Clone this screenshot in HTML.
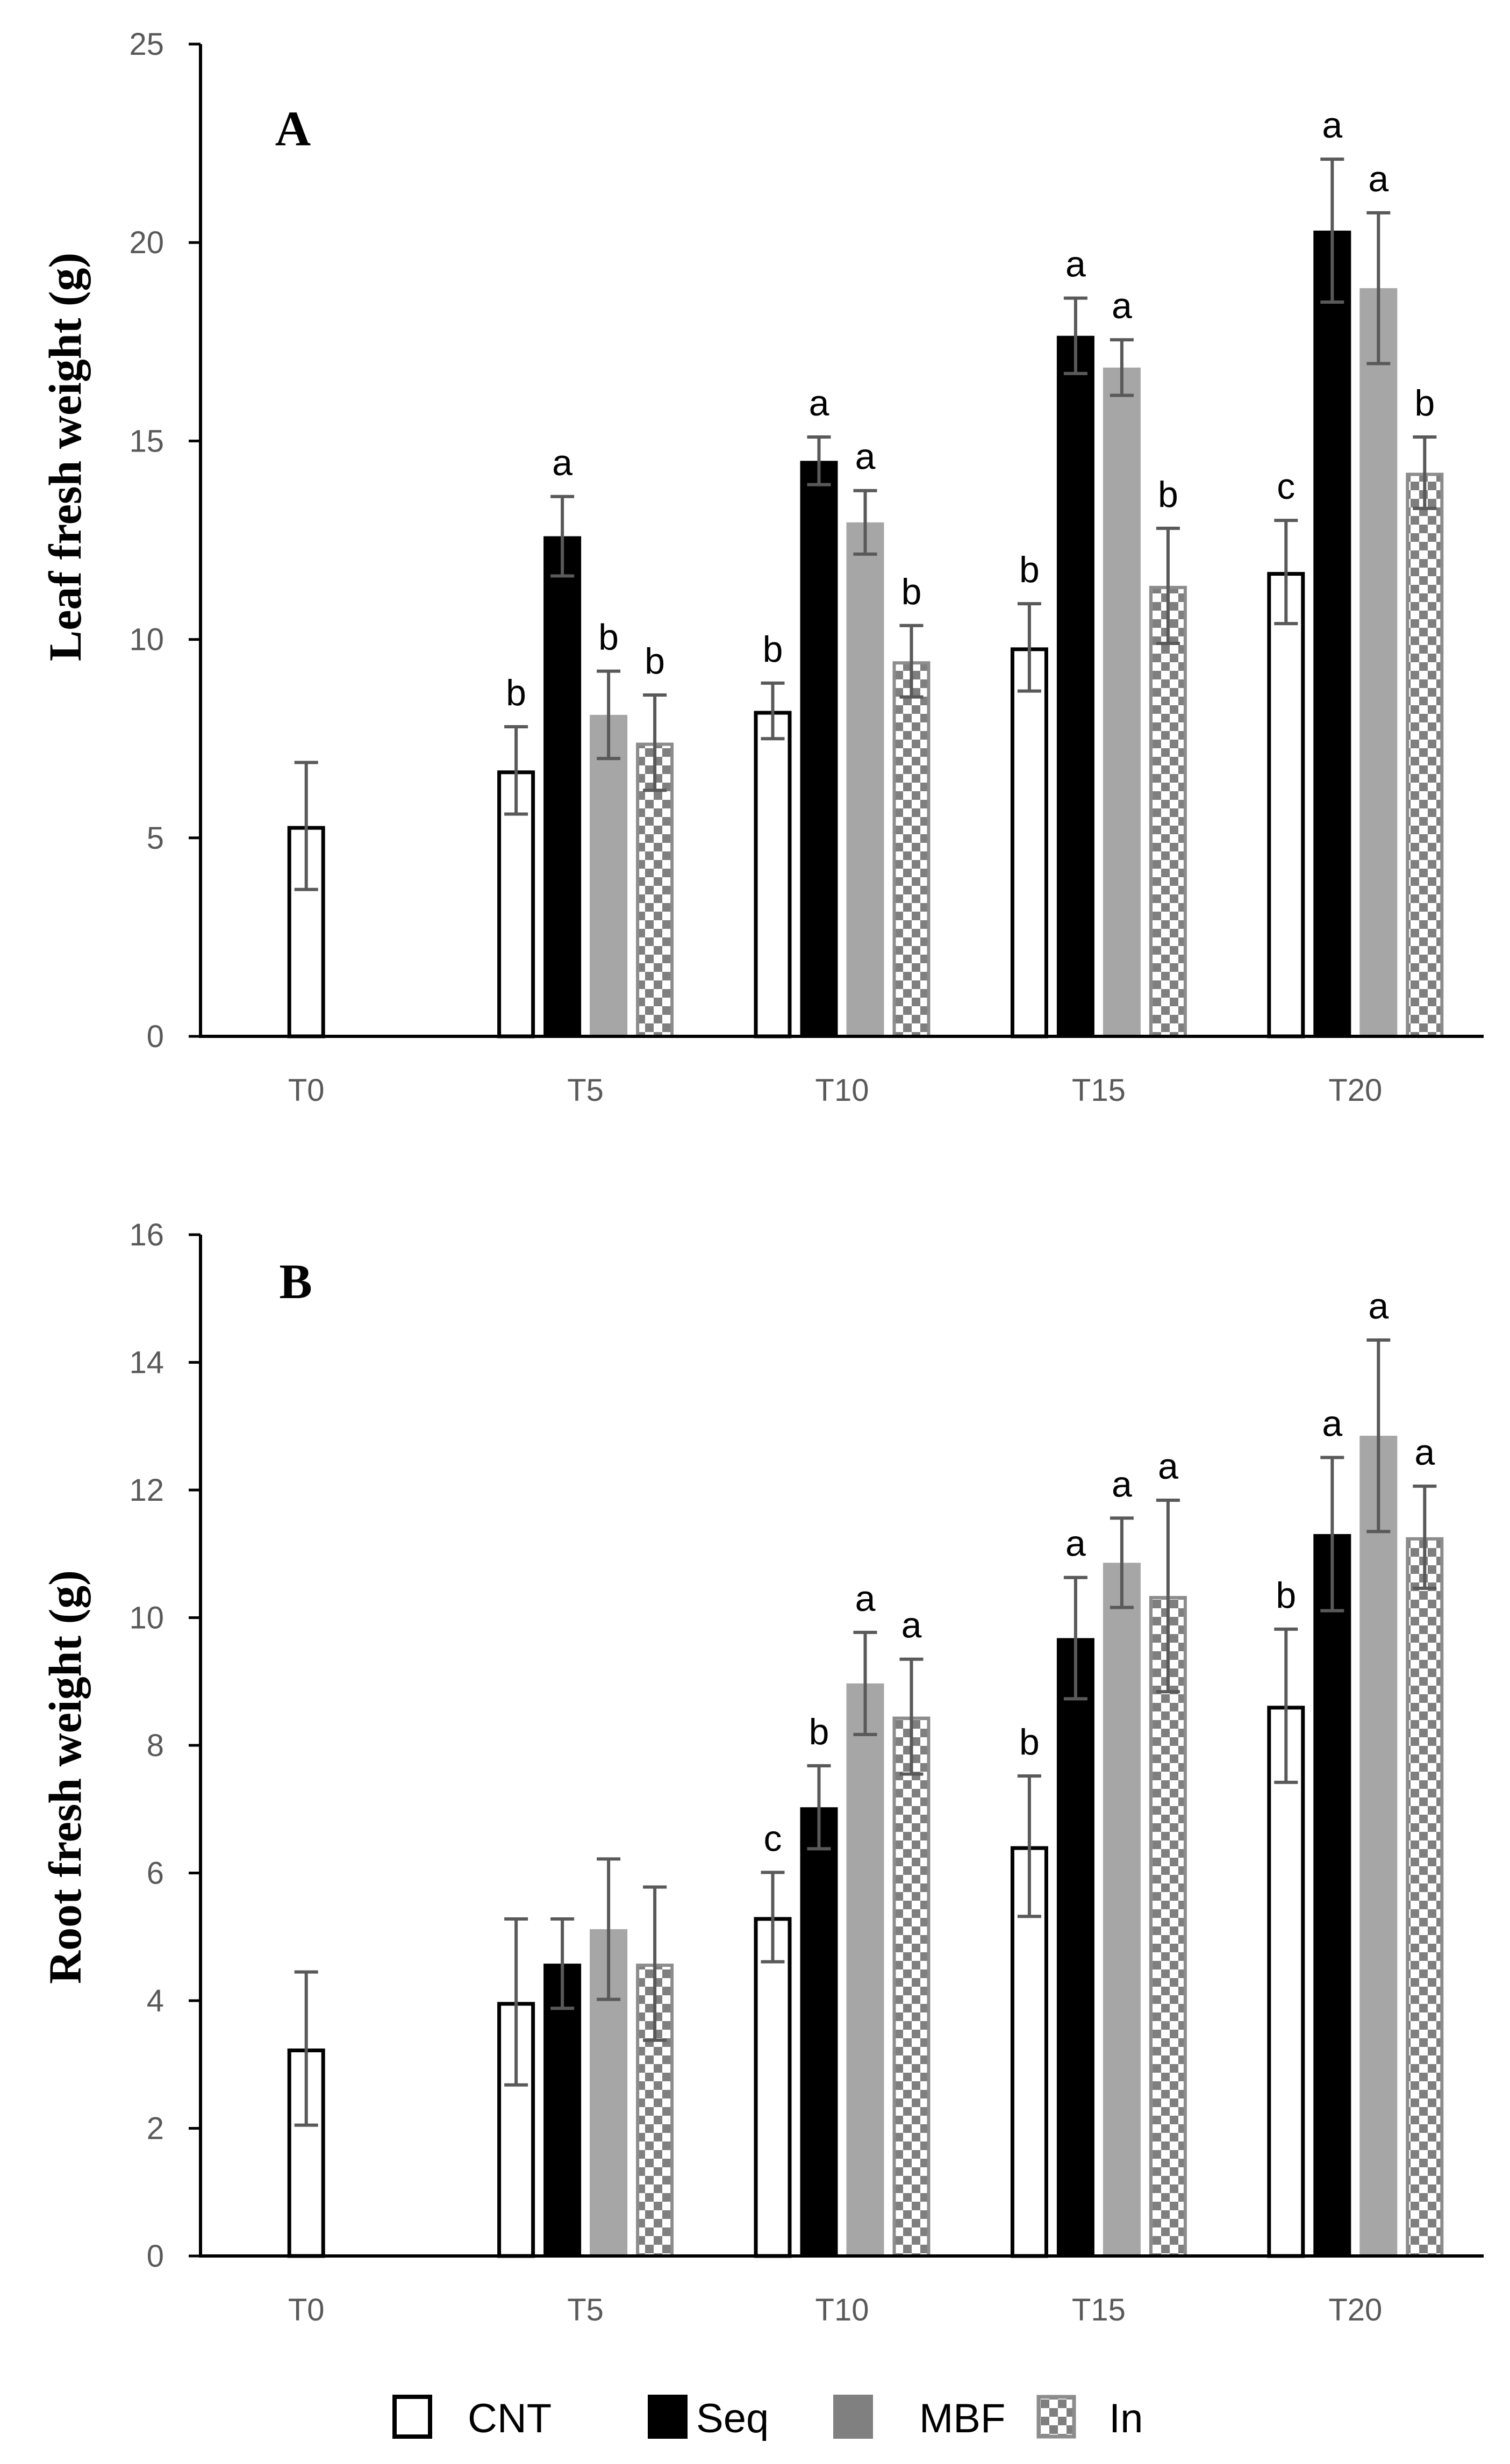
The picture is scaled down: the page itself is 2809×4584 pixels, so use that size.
<!DOCTYPE html>
<html><head><meta charset="utf-8">
<style>
html,body{margin:0;padding:0;background:#fff;}
svg{display:block;}
</style></head>
<body>
<svg id="chart" width="2809" height="4584" viewBox="0 0 2809 4584" xmlns="http://www.w3.org/2000/svg">
<defs>
<pattern id="checker" patternUnits="userSpaceOnUse" width="32" height="32">
<rect width="32" height="32" fill="#fff"/>
<rect width="16" height="16" fill="#7f7f7f"/>
<rect x="16" y="16" width="16" height="16" fill="#7f7f7f"/>
</pattern>
</defs>
</svg>
<script>
const categories = ["T0","T5","T10","T15","T20"];
const seriesNames = ["CNT","Seq","MBF","In"];
// Panel A: leaf fresh weight (g)
const leafCNT = [5.3, 6.7, 8.2, 9.8, 11.7];
const leafSeq = [null, 12.6, 14.5, 17.65, 20.3];
const leafMBF = [null, 8.1, 12.95, 16.85, 18.85];
const leafIn  = [null, 7.4, 9.45, 11.35, 14.2];
const leafCNTErr = [1.6, 1.1, 0.7, 1.1, 1.3];
const leafSeqErr = [null, 1.0, 0.6, 0.95, 1.8];
const leafMBFErr = [null, 1.1, 0.8, 0.7, 1.9];
const leafInErr  = [null, 1.2, 0.9, 1.45, 0.9];
const leafLetters = [[null,null,null,null],["b","a","b","b"],["b","a","a","b"],["b","a","a","b"],["c","a","a","b"]];
const leafTicks = [0,5,10,15,20,25];
// Panel B: root fresh weight (g)
const rootCNT = [3.25, 3.98, 5.31, 6.42, 8.62];
const rootSeq = [null, 4.58, 7.03, 9.68, 11.31];
const rootMBF = [null, 5.12, 8.97, 10.86, 12.85];
const rootIn  = [null, 4.58, 8.45, 10.34, 11.26];
const rootCNTErr = [1.2, 1.3, 0.7, 1.1, 1.2];
const rootSeqErr = [null, 0.7, 0.65, 0.95, 1.2];
const rootMBFErr = [null, 1.1, 0.8, 0.7, 1.5];
const rootInErr  = [null, 1.2, 0.9, 1.5, 0.8];
const rootLetters = [[null,null,null,null],[null,null,null,null],["c","b","a","a"],["b","a","a","a"],["b","a","a","a"]];
const rootTicks = [0,2,4,6,8,10,12,14,16];

const NS="http://www.w3.org/2000/svg";
const svg=document.getElementById('chart');
function mk(tag,attrs,parent){const e=document.createElementNS(NS,tag);for(const k in attrs)e.setAttribute(k,attrs[k]);(parent||svg).appendChild(e);return e;}

const X0=373, X1=2760, BAR_W=70, PITCH=86;
const band=(X1-X0)/categories.length;
function xCenter(i){return X0+band*(i+0.5);}
const fills=["#fff","#000","#a6a6a6","url(#checker)"];
const strokes=["#000","#000","#a6a6a6","#8c8c8c"];

function panel(cfg){
  const g=mk('g',{});
  
  
  const yMax=cfg.ticks[cfg.ticks.length-1];
  const y=v=>cfg.yBot-(v/yMax)*(cfg.yBot-cfg.yTop);
  const ya=mk('line',{x1:X0,y1:cfg.yTop,x2:X0,y2:cfg.yBot,stroke:'#000','stroke-width':6},g);
  
  
  cfg.ticks.forEach(t=>{
    const tk=mk('line',{x1:X0-22,y1:y(t),x2:X0,y2:y(t),stroke:'#000','stroke-width':5},g);
    
    
    const tl=mk('text',{x:X0-68,y:y(t)+20,'text-anchor':'end','font-family':'Liberation Sans, sans-serif','font-size':58,fill:'#595959'},g);
    tl.textContent=t;
    
    
  });
  categories.forEach((c,i)=>{
    const vals=cfg.series.map(s=>s[i]);
    const present=vals.filter(v=>v!=null).length;
    vals.forEach((v,k)=>{
      if(v==null)return;
      const cx = present===1 ? xCenter(i)-42 : xCenter(i)+(k-1.5)*PITCH;
      const top=y(v);
      const inset=(k===0)?3.5:(k===3?3:0);
      const b=mk('rect',{x:cx-BAR_W/2+inset,y:top+inset,width:BAR_W-2*inset,height:cfg.yBot-top-inset,fill:fills[k],stroke:(k===0||k===3)?strokes[k]:'none','stroke-width':k===0?7:6},g);
      
      
      const e=cfg.errs[k][i];
      const eg=mk('path',{d:`M${cx},${y(v+e)}V${y(v-e)}M${cx-22},${y(v+e)}H${cx+22}M${cx-22},${y(v-e)}H${cx+22}`,stroke:'#595959','stroke-width':6,fill:'none'},g);
      
      
      const L=cfg.letters[i][k];
      if(L){
        const lt=mk('text',{x:cx,y:y(v+e)-40,'text-anchor':'middle','font-family':'Liberation Sans, sans-serif','font-size':68,fill:'#000'},g);
        lt.textContent=L;
        
        
      }
    });
    const xl=mk('text',{x:xCenter(i)-(present===1?42:0),y:cfg.yBot+120,'text-anchor':'middle','font-family':'Liberation Sans, sans-serif','font-size':58,fill:'#595959'},g);
    xl.textContent=c;
    
    
  });
  const xa=mk('line',{x1:X0-3,y1:cfg.yBot,x2:X1,y2:cfg.yBot,stroke:'#000','stroke-width':6},g);
  
  
  const ti=mk('text',{x:0,y:0,transform:`translate(${cfg.titleX},${cfg.titleY}) rotate(-90)`,'text-anchor':'middle','font-family':'Liberation Serif, serif','font-weight':'bold','font-size':86,fill:'#000'},g);
  ti.textContent=cfg.title;
  
  
  const pl=mk('text',{x:cfg.labX,y:cfg.labY,'text-anchor':'middle','font-family':'Liberation Serif, serif','font-weight':'bold','font-size':92,fill:'#000'},g);
  pl.textContent=cfg.label;
  
  
}

panel({name:'panel-a-leaf',yTop:82,yBot:1928,ticks:leafTicks,
  series:[leafCNT,leafSeq,leafMBF,leafIn],errs:[leafCNTErr,leafSeqErr,leafMBFErr,leafInErr],
  letters:leafLetters,title:'Leaf  fresh weight (g)',titleX:150,titleY:850,label:'A',labX:545,labY:270});
panel({name:'panel-b-root',yTop:2297,yBot:4197,ticks:rootTicks,
  series:[rootCNT,rootSeq,rootMBF,rootIn],errs:[rootCNTErr,rootSeqErr,rootMBFErr,rootInErr],
  letters:rootLetters,title:'Root fresh weight (g)',titleX:150,titleY:3306,label:'B',labX:550,labY:2415});

const lg=mk('g',{});


const legX=[730,1205,1550,1928];
seriesNames.forEach((n,k)=>{
  const inset=(k===0||k===3)?4:0;
  const r=mk('rect',{x:legX[k]+inset,y:4455+inset,width:74-2*inset,height:82-2*inset,fill:k===2?'#808080':fills[k],stroke:(k===0||k===3)?strokes[k]:'none','stroke-width':k===0?8:7},lg);
  
  
  const t=mk('text',{x:legX[k]+(k===0?140:(k===1?90:(k===2?160:135))),y:4525,'font-family':'Liberation Sans, sans-serif','font-size':76,fill:'#000'},lg);
  t.textContent=n;
  
  
});
</script>
</body></html>
